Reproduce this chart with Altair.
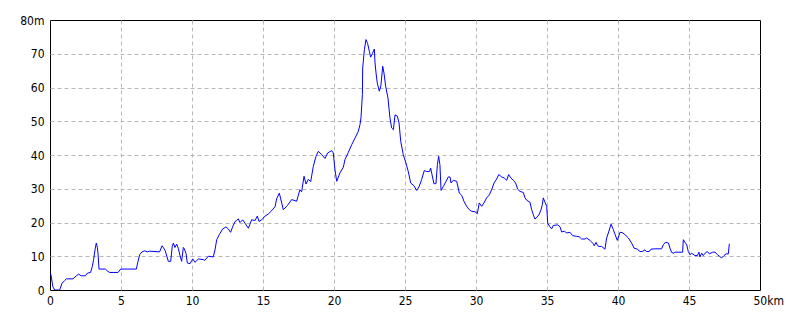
import altair as alt
import pandas as pd

km = [0.00, 0.07, 0.20, 0.33, 0.68, 0.85, 1.03, 1.15, 1.62, 1.85, 2.02, 2.20, 2.49, 2.63, 2.86, 2.98,
      3.07, 3.19, 3.26, 3.33, 3.38, 3.45, 3.90, 4.08, 4.20, 4.79, 4.98, 6.08, 6.20, 6.32, 6.48, 6.67,
      6.85, 7.02, 7.72, 7.89, 7.96, 8.12, 8.33, 8.50, 8.61, 8.69, 8.80, 8.92, 9.04, 9.15, 9.27, 9.39,
      9.45, 9.58, 9.67, 9.86, 10.05, 10.21, 10.45, 10.80, 10.90, 11.15, 11.50, 11.62, 11.74, 11.92,
      12.16, 12.39, 12.55, 12.72, 12.86, 13.03, 13.15, 13.26, 13.38, 13.57, 13.73, 13.97, 14.20, 14.44,
      14.60, 14.72, 14.91, 15.14, 15.37, 15.61, 15.85, 15.96, 16.15, 16.43, 16.71, 17.02, 17.37, 17.60,
      17.72, 17.89, 18.03, 18.19, 18.36, 18.54, 18.73, 18.90, 19.13, 19.37, 19.55, 19.84, 19.95, 20.07,
      20.19, 20.42, 20.66, 20.77, 21.01, 21.25, 21.48, 21.71, 21.83, 21.90, 22.00, 22.02, 22.14, 22.25,
      22.37, 22.49, 22.58, 22.70, 22.84, 22.89, 22.96, 23.05, 23.19, 23.30, 23.43, 23.52, 23.64, 23.80,
      23.94, 24.06, 24.18, 24.30, 24.46, 24.58, 24.70, 24.88, 25.07, 25.23, 25.40, 25.63, 25.82, 26.00,
      26.17, 26.36, 26.53, 26.72, 26.81, 26.88, 27.04, 27.18, 27.28, 27.37, 27.46, 27.54, 27.70, 27.89,
      28.05, 28.17, 28.24, 28.40, 28.64, 28.83, 29.00, 29.15, 29.34, 29.53, 29.70, 29.93, 30.09, 30.23,
      30.40, 30.56, 30.75, 30.94, 31.10, 31.27, 31.46, 31.60, 31.81, 31.99, 32.16, 32.30, 32.45, 32.63,
      32.79, 32.93, 33.10, 33.33, 33.45, 33.57, 33.80, 33.92, 34.04, 34.15, 34.30, 34.46, 34.58, 34.67,
      34.74, 34.86, 34.98, 35.05, 35.21, 35.33, 35.44, 35.75, 35.92, 36.03, 36.22, 36.39, 36.62, 36.81,
      37.09, 37.26, 37.44, 37.68, 37.79, 38.03, 38.26, 38.33, 38.45, 38.57, 38.66, 38.85, 39.08, 39.20,
      39.32, 39.51, 39.67, 39.79, 39.95, 40.14, 40.30, 40.49, 40.73, 40.96, 41.13, 41.36, 41.55, 41.71,
      41.90, 42.00, 42.20, 42.32, 42.60, 43.07, 43.19, 43.36, 43.55, 43.66, 43.78, 43.94, 44.00, 44.55,
      44.60, 44.72, 44.84, 44.95, 45.07, 45.19, 45.42, 45.59, 45.70, 45.77, 45.89, 46.00, 46.13, 46.29,
      46.43, 46.67, 46.83, 47.00, 47.14, 47.30, 47.46, 47.61, 47.77, 47.84]

elev = [5.0, 4.5, 1.0, 0.0, 0.0, 2.0, 2.8, 3.3, 3.3, 4.2, 4.7, 4.2, 4.2, 5.0, 5.2, 7.0,
        9.0, 12.4, 13.9, 12.7, 10.9, 6.2, 6.2, 5.5, 5.2, 5.2, 6.2, 6.2, 8.5, 10.5, 11.3, 11.6,
        11.3, 11.5, 11.3, 13.1, 12.7, 11.6, 8.5, 8.5, 12.9, 13.9, 12.6, 13.6, 12.3, 10.3, 8.5, 12.6,
        12.3, 10.8, 8.0, 7.8, 9.2, 8.2, 9.2, 9.0, 8.8, 10.0, 9.8, 11.9, 14.9, 16.4,
        18.1, 18.7, 18.1, 17.1, 18.7, 20.3, 20.6, 21.1, 20.0, 20.8, 19.8, 18.3, 20.8, 20.6,
        21.9, 20.3, 20.8, 21.9, 22.5, 23.5, 24.7, 27.0, 28.7, 23.8, 25.0, 26.8, 26.3, 29.7,
        29.1, 33.7, 31.4, 32.8, 32.1, 36.6, 39.6, 41.1, 40.1, 39.0, 40.6, 41.3, 40.6, 35.6,
        32.2, 34.7, 36.4, 38.6, 40.8, 43.1, 45.0, 47.0, 49.0, 51.0, 57.9, 65.8, 71.2, 74.2,
        73.0, 70.7, 69.0, 70.0, 71.4, 67.3, 64.3, 61.3, 58.9, 60.5, 66.3, 64.3, 60.3, 56.9,
        51.0, 48.0, 47.5, 51.9, 51.5, 49.5, 44.0, 40.1, 37.6, 35.1, 31.7, 30.9, 29.5, 30.7,
        32.7, 35.4, 35.1, 35.1, 36.1, 34.6, 31.5, 31.5, 37.1, 39.6, 37.1, 29.5, 30.7, 32.2,
        33.5, 33.5, 31.7, 32.5, 32.2, 28.7, 28.0, 26.3, 24.8, 23.8, 23.3, 23.2, 22.6, 25.8,
        24.8, 25.8, 27.3, 28.2, 29.7, 31.7, 32.9, 34.2, 33.5, 33.2, 32.5, 34.2, 33.2, 32.5,
        31.7, 29.9, 29.2, 28.9, 27.3, 26.6, 26.0, 23.8, 22.3, 21.0, 21.6, 22.5, 23.8, 25.3,
        27.3, 26.0, 24.8, 19.8, 18.7, 18.1, 19.1, 19.3, 18.7, 17.2, 17.4, 16.9, 17.1, 16.1,
        15.9, 15.8, 15.1, 15.1, 15.4, 14.7, 13.7, 13.1, 14.1, 13.1, 12.9, 12.9, 12.1, 15.4,
        16.9, 19.5, 17.9, 16.5, 14.7, 17.1, 17.0, 16.4, 15.4, 13.9, 12.4, 12.1, 11.4, 11.4,
        11.9, 11.4, 11.4, 12.1, 12.2, 12.2, 13.4, 14.2, 13.9, 12.4, 11.1, 10.9, 11.2, 11.2,
        14.9, 14.1, 13.4, 11.4, 10.5, 10.9, 10.2, 10.2, 11.2, 9.8, 10.9, 10.2, 10.9, 11.4,
        10.7, 11.2, 11.2, 10.5, 10.0, 9.5, 10.2, 10.7, 10.7, 13.7]

x_ticks = [0, 5, 10, 15, 20, 25, 30, 35, 40, 45, 50]
y_ticks = [0, 10, 20, 30, 40, 50, 60, 70, 80]

df = pd.DataFrame({"km": km, "elev": elev})

FONT = "Liberation Sans Narrow, DejaVu Sans Condensed, Liberation Sans, sans-serif"

chart = (
    alt.Chart(df)
    .mark_line(color="#0000ff", strokeWidth=1, clip=True)
    .encode(
        x=alt.X(
            "km:Q",
            scale=alt.Scale(domain=[0, 50], nice=False, zero=False),
            axis=alt.Axis(
                values=x_ticks,
                title=None,
                ticks=False,
                domain=False,
                grid=True,
                gridColor="#b8b8b8",
                gridDash=[4, 3],
                gridWidth=1,
                gridOpacity={"condition": {"test": "datum.value === 0 || datum.value === 50", "value": 0}, "value": 1},
                labelFont=FONT,
                labelFontSize=12,
                labelColor="#000000",
                labelPadding=5,
                labelFlush=False,
                labelOverlap=False,
                labelExpr="datum.value === 50 ? '50km' : datum.label",
                labelAlign={"condition": {"test": "datum.value === 50", "value": "left"}, "value": "center"},
                labelOffset={"condition": {"test": "datum.value === 50", "value": -7}, "value": 0},
            ),
        ),
        y=alt.Y(
            "elev:Q",
            scale=alt.Scale(domain=[0, 80], nice=False),
            axis=alt.Axis(
                values=y_ticks,
                title=None,
                ticks=False,
                domain=False,
                grid=True,
                gridColor="#b8b8b8",
                gridDash=[4, 3],
                gridWidth=1,
                gridOpacity={"condition": {"test": "datum.value === 0 || datum.value === 80", "value": 0}, "value": 1},
                labelFont=FONT,
                labelFontSize=12,
                labelColor="#000000",
                labelPadding=6,
                labelFlush=False,
                labelOverlap=False,
                labelExpr="datum.value === 80 ? '80m' : datum.label",
            ),
        ),
        order="km:Q",
    )
    .properties(
        width=710,
        height=270,
        padding={"left": 50, "top": 20, "right": 40, "bottom": 30},
        autosize=alt.AutoSizeParams(type="none"),
        background="#ffffff",
    )
    .configure_view(stroke="#000000", strokeWidth=1)
)

chart.save("out.html", embed_options={"renderer": "svg", "actions": False})
